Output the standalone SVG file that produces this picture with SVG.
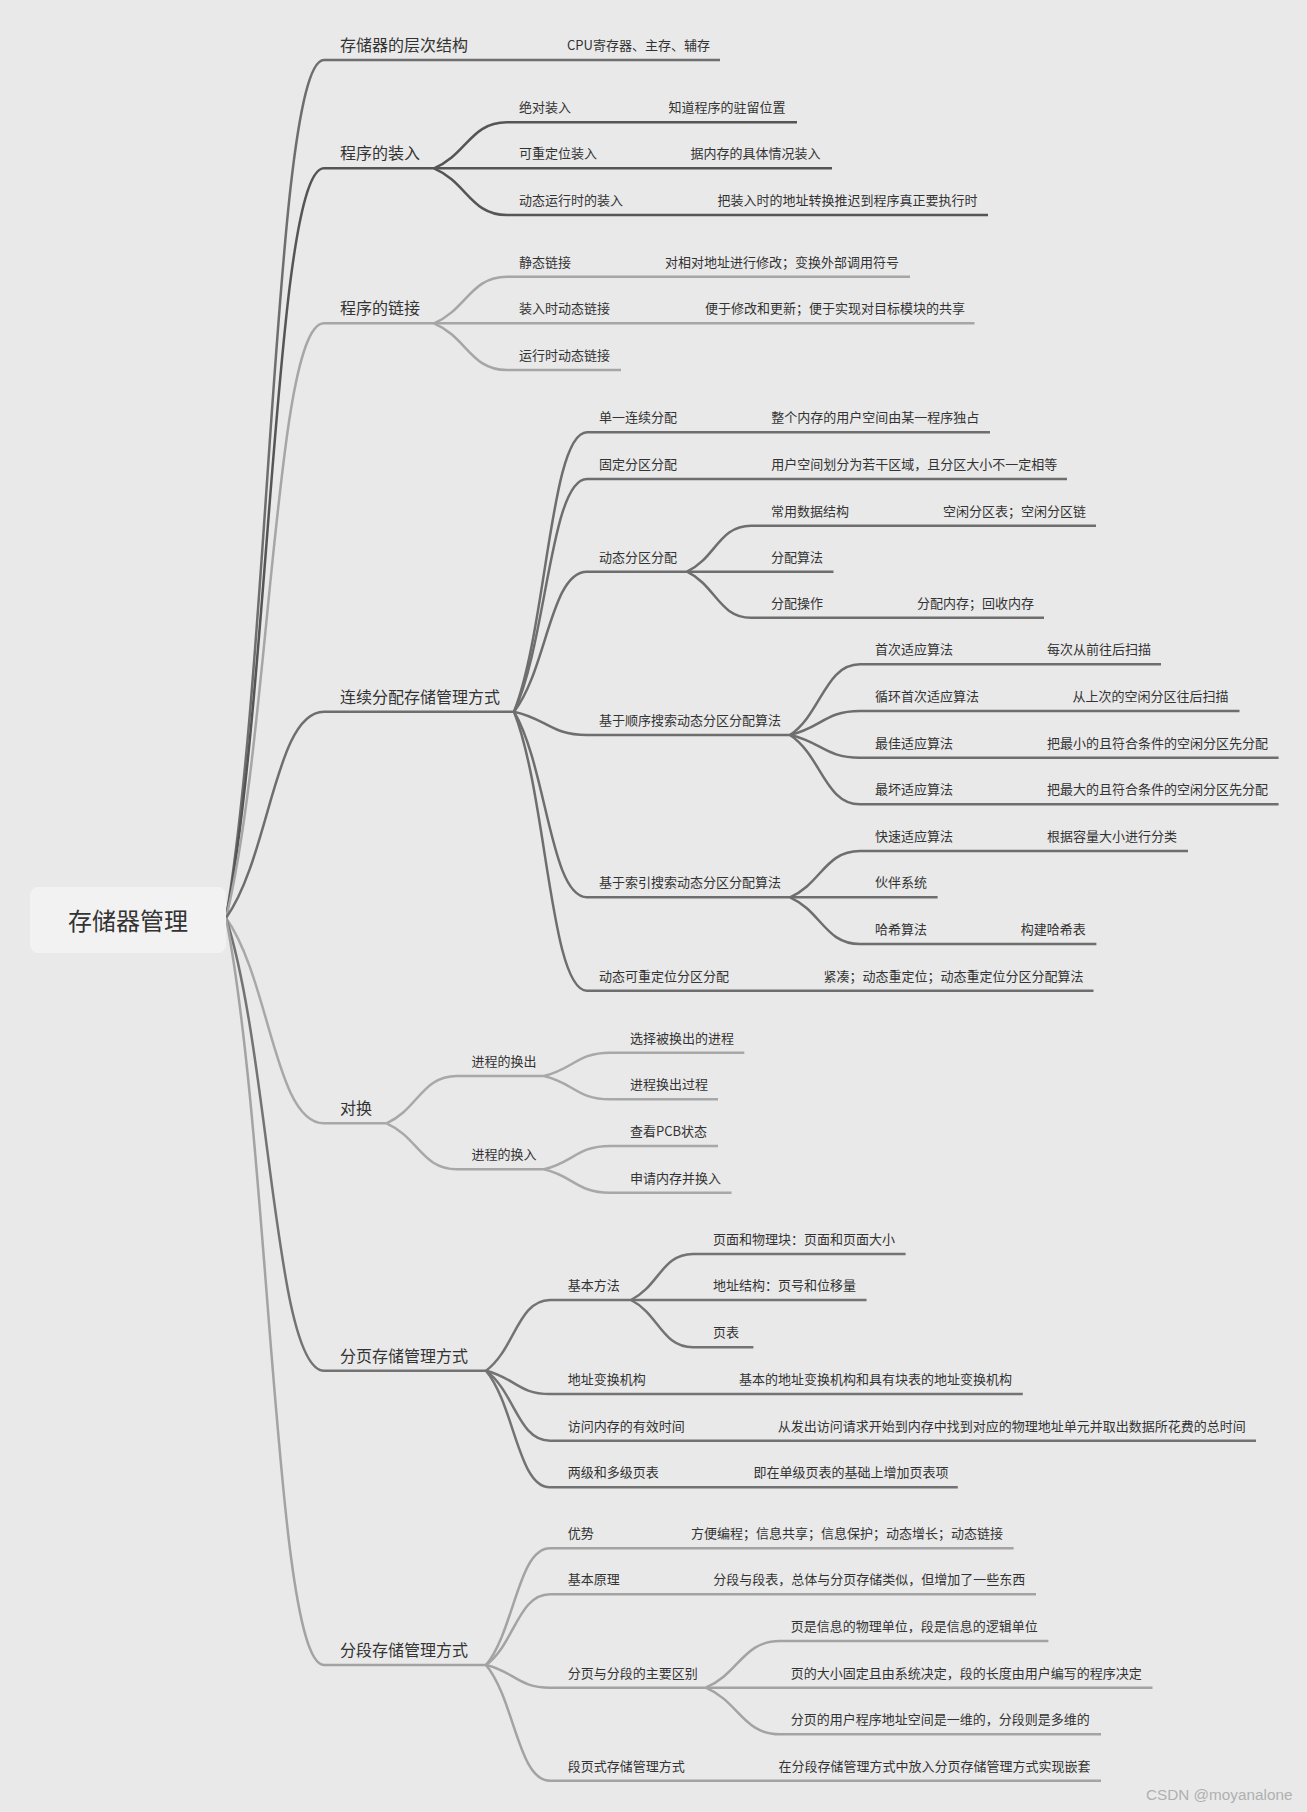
<svg xmlns="http://www.w3.org/2000/svg" width="1307" height="1812" viewBox="0 0 1307 1812">
<style>
text{font-family:"Noto Sans CJK SC","Noto Sans",sans-serif;fill:#333}
.t16{font-size:16px}
.t13{font-size:13px}
.root{font-size:24px;text-anchor:middle}
line,path{fill:none;stroke-width:2.5}
.cA{stroke:#6e6e6e}.cB{stroke:#555}.cC{stroke:#a6a6a6}.cD{stroke:#6e6e6e}.cE{stroke:#a8a8a8}.cF{stroke:#737373}.cG{stroke:#a3a3a3}
.wm{font-family:"Liberation Sans",Arial,sans-serif;font-size:15.3px;fill:#b0b0b0}
</style>
<rect width="1307" height="1812" fill="#e9e9e9"/>
<g id="connectors">
<path class="cA" d="M226 918 C270.1 660.6 275 60 324 60"/>
<path class="cB" d="M226 918 C270.1 693.1 275 168.3 324 168.3"/>
<path class="cC" d="M226 918 C270.1 739.6 275 323.3 324 323.3"/>
<path class="cD" d="M226 918 C270.1 856.1 275 711.7 324 711.7"/>
<path class="cE" d="M226 918 C270.1 979.6 275 1123.3 324 1123.3"/>
<path class="cF" d="M226 918 C270.1 1053.8 275 1370.7 324 1370.7"/>
<path class="cG" d="M226 918 C270.1 1142.1 275 1665 324 1665"/>
<path class="cB" d="M434 168.3 C466.9 154.5 470.5 122.3 507 122.3"/>
<path class="cB" d="M434 168.3 L507 168.3"/>
<path class="cB" d="M434 168.3 C466.9 182.3 470.5 215 507 215"/>
<path class="cC" d="M434 323.3 C466.9 309.3 470.5 276.7 507 276.7"/>
<path class="cC" d="M434 323.3 L507 323.3"/>
<path class="cC" d="M434 323.3 C466.9 337.3 470.5 370 507 370"/>
<path class="cD" d="M514 711.7 C546.9 627.9 550.5 432.3 587 432.3"/>
<path class="cD" d="M514 711.7 C546.9 641.9 550.5 479 587 479"/>
<path class="cD" d="M514 711.7 C546.9 669.7 550.5 571.7 587 571.7"/>
<path class="cD" d="M514 711.7 C546.9 718.7 550.5 735 587 735"/>
<path class="cD" d="M514 711.7 C546.9 767.4 550.5 897.3 587 897.3"/>
<path class="cD" d="M514 711.7 C546.9 795.4 550.5 990.7 587 990.7"/>
<path class="cD" d="M687 571.7 C715.8 557.9 719 525.7 751 525.7"/>
<path class="cD" d="M687 571.7 L751 571.7"/>
<path class="cD" d="M687 571.7 C715.8 585.5 719 617.7 751 617.7"/>
<path class="cD" d="M790 735 C821.5 713.8 825 664.3 860 664.3"/>
<path class="cD" d="M790 735 C821.5 727.8 825 711 860 711"/>
<path class="cD" d="M790 735 C821.5 741.8 825 757.7 860 757.7"/>
<path class="cD" d="M790 735 C821.5 755.8 825 804.3 860 804.3"/>
<path class="cD" d="M790 897.3 C821.5 883.4 825 851 860 851"/>
<path class="cD" d="M790 897.3 L860 897.3"/>
<path class="cD" d="M790 897.3 C821.5 911.3 825 944 860 944"/>
<path class="cE" d="M386.5 1123.3 C418.2 1109.1 421.8 1076 457 1076"/>
<path class="cE" d="M386.5 1123.3 C418.2 1137.1 421.8 1169.3 457 1169.3"/>
<path class="cE" d="M544 1076 C573.7 1069 577 1052.7 610 1052.7"/>
<path class="cE" d="M544 1076 C573.7 1083 577 1099.3 610 1099.3"/>
<path class="cE" d="M544 1169.3 C573.7 1162.3 577 1146 610 1146"/>
<path class="cE" d="M544 1169.3 C573.7 1176.3 577 1192.7 610 1192.7"/>
<path class="cF" d="M486 1370.7 C514.8 1349.5 518 1300 550 1300"/>
<path class="cF" d="M486 1370.7 C514.8 1377.7 518 1394 550 1394"/>
<path class="cF" d="M486 1370.7 C514.8 1391.7 518 1440.7 550 1440.7"/>
<path class="cF" d="M486 1370.7 C514.8 1405.7 518 1487.3 550 1487.3"/>
<path class="cF" d="M631 1300 C658.9 1286.2 662 1254 693 1254"/>
<path class="cF" d="M631 1300 L693 1300"/>
<path class="cF" d="M631 1300 C658.9 1314.2 662 1347.3 693 1347.3"/>
<path class="cG" d="M486 1665 C514.8 1630 518 1548.3 550 1548.3"/>
<path class="cG" d="M486 1665 C514.8 1643.8 518 1594.3 550 1594.3"/>
<path class="cG" d="M486 1665 C514.8 1671.8 518 1687.7 550 1687.7"/>
<path class="cG" d="M486 1665 C514.8 1699.7 518 1780.7 550 1780.7"/>
<path class="cG" d="M705.7 1687.7 C739.1 1673.7 742.9 1641 780 1641"/>
<path class="cG" d="M705.7 1687.7 L780 1687.7"/>
<path class="cG" d="M705.7 1687.7 C739.1 1701.7 742.9 1734.3 780 1734.3"/>
</g>
<g id="root"><rect x="30" y="887" width="196" height="66" rx="8" fill="#f2f2f2"/><text class="root" x="128" y="930">存储器管理</text></g>
<g id="n1"><line class="cA" x1="324" y1="60" x2="482" y2="60"/><text class="t16" x="340" y="51">存储器的层次结构</text></g>
<g id="n1d"><line class="cA" x1="482" y1="60" x2="720" y2="60"/><text class="t13" x="567" y="50">CPU寄存器、主存、辅存</text></g>
<g id="n2"><line class="cB" x1="324" y1="168.3" x2="434" y2="168.3"/><text class="t16" x="340" y="159.3">程序的装入</text></g>
<g id="n2a"><line class="cB" x1="507" y1="122.3" x2="586" y2="122.3"/><text class="t13" x="519" y="112.3">绝对装入</text></g>
<g id="n2ad"><line class="cB" x1="586" y1="122.3" x2="797" y2="122.3"/><text class="t13" x="668.5" y="112.3">知道程序的驻留位置</text></g>
<g id="n2b"><line class="cB" x1="507" y1="168.3" x2="606" y2="168.3"/><text class="t13" x="519" y="158.3">可重定位装入</text></g>
<g id="n2bd"><line class="cB" x1="606" y1="168.3" x2="832" y2="168.3"/><text class="t13" x="690.4" y="158.3">据内存的具体情况装入</text></g>
<g id="n2c"><line class="cB" x1="507" y1="215" x2="631" y2="215"/><text class="t13" x="519" y="205">动态运行时的装入</text></g>
<g id="n2cd"><line class="cB" x1="631" y1="215" x2="988" y2="215"/><text class="t13" x="717.4" y="205">把装入时的地址转换推迟到程序真正要执行时</text></g>
<g id="n3"><line class="cC" x1="324" y1="323.3" x2="434" y2="323.3"/><text class="t16" x="340" y="314.3">程序的链接</text></g>
<g id="n3a"><line class="cC" x1="507" y1="276.7" x2="582" y2="276.7"/><text class="t13" x="519" y="266.7">静态链接</text></g>
<g id="n3ad"><line class="cC" x1="582" y1="276.7" x2="910" y2="276.7"/><text class="t13" x="665" y="266.7">对相对地址进行修改；变换外部调用符号</text></g>
<g id="n3b"><line class="cC" x1="507" y1="323.3" x2="622" y2="323.3"/><text class="t13" x="519" y="313.3">装入时动态链接</text></g>
<g id="n3bd"><line class="cC" x1="622" y1="323.3" x2="974.5" y2="323.3"/><text class="t13" x="705" y="313.3">便于修改和更新；便于实现对目标模块的共享</text></g>
<g id="n3c"><line class="cC" x1="507" y1="370" x2="621" y2="370"/><text class="t13" x="519" y="360">运行时动态链接</text></g>
<g id="n4"><line class="cD" x1="324" y1="711.7" x2="514" y2="711.7"/><text class="t16" x="340" y="702.7">连续分配存储管理方式</text></g>
<g id="n4a"><line class="cD" x1="587" y1="432.3" x2="687" y2="432.3"/><text class="t13" x="599" y="422.3">单一连续分配</text></g>
<g id="n4ad"><line class="cD" x1="687" y1="432.3" x2="990" y2="432.3"/><text class="t13" x="771.3" y="422.3">整个内存的用户空间由某一程序独占</text></g>
<g id="n4b"><line class="cD" x1="587" y1="479" x2="687" y2="479"/><text class="t13" x="599" y="469">固定分区分配</text></g>
<g id="n4bd"><line class="cD" x1="687" y1="479" x2="1067" y2="479"/><text class="t13" x="771.3" y="469">用户空间划分为若干区域，且分区大小不一定相等</text></g>
<g id="n4c"><line class="cD" x1="587" y1="571.7" x2="687" y2="571.7"/><text class="t13" x="599" y="561.7">动态分区分配</text></g>
<g id="n4c1"><line class="cD" x1="751" y1="525.7" x2="857" y2="525.7"/><text class="t13" x="771" y="515.7">常用数据结构</text></g>
<g id="n4c1d"><line class="cD" x1="857" y1="525.7" x2="1096" y2="525.7"/><text class="t13" x="943" y="515.7">空闲分区表；空闲分区链</text></g>
<g id="n4c2"><line class="cD" x1="751" y1="571.7" x2="833.5" y2="571.7"/><text class="t13" x="771" y="561.7">分配算法</text></g>
<g id="n4c3"><line class="cD" x1="751" y1="617.7" x2="834" y2="617.7"/><text class="t13" x="771" y="607.7">分配操作</text></g>
<g id="n4c3d"><line class="cD" x1="834" y1="617.7" x2="1044" y2="617.7"/><text class="t13" x="917" y="607.7">分配内存；回收内存</text></g>
<g id="n4d"><line class="cD" x1="587" y1="735" x2="790" y2="735"/><text class="t13" x="599" y="725">基于顺序搜索动态分区分配算法</text></g>
<g id="n4d1"><line class="cD" x1="860" y1="664.3" x2="961" y2="664.3"/><text class="t13" x="875" y="654.3">首次适应算法</text></g>
<g id="n4d1d"><line class="cD" x1="961" y1="664.3" x2="1161" y2="664.3"/><text class="t13" x="1047" y="654.3">每次从前往后扫描</text></g>
<g id="n4d2"><line class="cD" x1="860" y1="711" x2="990" y2="711"/><text class="t13" x="875" y="701">循环首次适应算法</text></g>
<g id="n4d2d"><line class="cD" x1="990" y1="711" x2="1239.5" y2="711"/><text class="t13" x="1072.6" y="701">从上次的空闲分区往后扫描</text></g>
<g id="n4d3"><line class="cD" x1="860" y1="757.7" x2="961" y2="757.7"/><text class="t13" x="875" y="747.7">最佳适应算法</text></g>
<g id="n4d3d"><line class="cD" x1="961" y1="757.7" x2="1278.6" y2="757.7"/><text class="t13" x="1047" y="747.7">把最小的且符合条件的空闲分区先分配</text></g>
<g id="n4d4"><line class="cD" x1="860" y1="804.3" x2="961" y2="804.3"/><text class="t13" x="875" y="794.3">最坏适应算法</text></g>
<g id="n4d4d"><line class="cD" x1="961" y1="804.3" x2="1278.6" y2="804.3"/><text class="t13" x="1047" y="794.3">把最大的且符合条件的空闲分区先分配</text></g>
<g id="n4e"><line class="cD" x1="587" y1="897.3" x2="790" y2="897.3"/><text class="t13" x="599" y="887.3">基于索引搜索动态分区分配算法</text></g>
<g id="n4e1"><line class="cD" x1="860" y1="851" x2="961" y2="851"/><text class="t13" x="875" y="841">快速适应算法</text></g>
<g id="n4e1d"><line class="cD" x1="961" y1="851" x2="1188" y2="851"/><text class="t13" x="1047" y="841">根据容量大小进行分类</text></g>
<g id="n4e2"><line class="cD" x1="860" y1="897.3" x2="937.6" y2="897.3"/><text class="t13" x="875" y="887.3">伙伴系统</text></g>
<g id="n4e3"><line class="cD" x1="860" y1="944" x2="938" y2="944"/><text class="t13" x="875" y="934">哈希算法</text></g>
<g id="n4e3d"><line class="cD" x1="938" y1="944" x2="1096.4" y2="944"/><text class="t13" x="1020.7" y="934">构建哈希表</text></g>
<g id="n4f"><line class="cD" x1="587" y1="990.7" x2="740" y2="990.7"/><text class="t13" x="599" y="980.7">动态可重定位分区分配</text></g>
<g id="n4fd"><line class="cD" x1="740" y1="990.7" x2="1093.5" y2="990.7"/><text class="t13" x="823.5" y="980.7">紧凑；动态重定位；动态重定位分区分配算法</text></g>
<g id="n5"><line class="cE" x1="324" y1="1123.3" x2="386.5" y2="1123.3"/><text class="t16" x="340" y="1114.3">对换</text></g>
<g id="n5a"><line class="cE" x1="457" y1="1076" x2="544" y2="1076"/><text class="t13" x="471.5" y="1066">进程的换出</text></g>
<g id="n5a1"><line class="cE" x1="610" y1="1052.7" x2="744.3" y2="1052.7"/><text class="t13" x="630" y="1042.7">选择被换出的进程</text></g>
<g id="n5a2"><line class="cE" x1="610" y1="1099.3" x2="718" y2="1099.3"/><text class="t13" x="630" y="1089.3">进程换出过程</text></g>
<g id="n5b"><line class="cE" x1="457" y1="1169.3" x2="544" y2="1169.3"/><text class="t13" x="471.5" y="1159.3">进程的换入</text></g>
<g id="n5b1"><line class="cE" x1="610" y1="1146" x2="718" y2="1146"/><text class="t13" x="630" y="1136">查看PCB状态</text></g>
<g id="n5b2"><line class="cE" x1="610" y1="1192.7" x2="731.5" y2="1192.7"/><text class="t13" x="630" y="1182.7">申请内存并换入</text></g>
<g id="n6"><line class="cF" x1="324" y1="1370.7" x2="486" y2="1370.7"/><text class="t16" x="340" y="1361.7">分页存储管理方式</text></g>
<g id="n6a"><line class="cF" x1="550" y1="1300" x2="631" y2="1300"/><text class="t13" x="567.7" y="1290">基本方法</text></g>
<g id="n6a1"><line class="cF" x1="693" y1="1254" x2="905.6" y2="1254"/><text class="t13" x="713" y="1244">页面和物理块：页面和页面大小</text></g>
<g id="n6a2"><line class="cF" x1="693" y1="1300" x2="866.5" y2="1300"/><text class="t13" x="713" y="1290">地址结构：页号和位移量</text></g>
<g id="n6a3"><line class="cF" x1="693" y1="1347.3" x2="753.4" y2="1347.3"/><text class="t13" x="713" y="1337.3">页表</text></g>
<g id="n6b"><line class="cF" x1="550" y1="1394" x2="656" y2="1394"/><text class="t13" x="567.7" y="1384">地址变换机构</text></g>
<g id="n6bd"><line class="cF" x1="656" y1="1394" x2="1022.8" y2="1394"/><text class="t13" x="739" y="1384">基本的地址变换机构和具有块表的地址变换机构</text></g>
<g id="n6c"><line class="cF" x1="550" y1="1440.7" x2="695" y2="1440.7"/><text class="t13" x="567.7" y="1430.7">访问内存的有效时间</text></g>
<g id="n6cd"><line class="cF" x1="695" y1="1440.7" x2="1256" y2="1440.7"/><text class="t13" x="777.7" y="1430.7">从发出访问请求开始到内存中找到对应的物理地址单元并取出数据所花费的总时间</text></g>
<g id="n6d"><line class="cF" x1="550" y1="1487.3" x2="670" y2="1487.3"/><text class="t13" x="567.7" y="1477.3">两级和多级页表</text></g>
<g id="n6dd"><line class="cF" x1="670" y1="1487.3" x2="957.8" y2="1487.3"/><text class="t13" x="753.4" y="1477.3">即在单级页表的基础上增加页表项</text></g>
<g id="n7"><line class="cG" x1="324" y1="1665" x2="486" y2="1665"/><text class="t16" x="340" y="1656">分段存储管理方式</text></g>
<g id="n7a"><line class="cG" x1="550" y1="1548.3" x2="608" y2="1548.3"/><text class="t13" x="567.7" y="1538.3">优势</text></g>
<g id="n7ad"><line class="cG" x1="608" y1="1548.3" x2="1013.6" y2="1548.3"/><text class="t13" x="691" y="1538.3">方便编程；信息共享；信息保护；动态增长；动态链接</text></g>
<g id="n7b"><line class="cG" x1="550" y1="1594.3" x2="630" y2="1594.3"/><text class="t13" x="567.7" y="1584.3">基本原理</text></g>
<g id="n7bd"><line class="cG" x1="630" y1="1594.3" x2="1036" y2="1594.3"/><text class="t13" x="713.2" y="1584.3">分段与段表，总体与分页存储类似，但增加了一些东西</text></g>
<g id="n7c"><line class="cG" x1="550" y1="1687.7" x2="705.7" y2="1687.7"/><text class="t13" x="567.7" y="1677.7">分页与分段的主要区别</text></g>
<g id="n7c1"><line class="cG" x1="780" y1="1641" x2="1048.4" y2="1641"/><text class="t13" x="790.7" y="1631">页是信息的物理单位，段是信息的逻辑单位</text></g>
<g id="n7c2"><line class="cG" x1="780" y1="1687.7" x2="1152.5" y2="1687.7"/><text class="t13" x="790.7" y="1677.7">页的大小固定且由系统决定，段的长度由用户编写的程序决定</text></g>
<g id="n7c3"><line class="cG" x1="780" y1="1734.3" x2="1101" y2="1734.3"/><text class="t13" x="790.7" y="1724.3">分页的用户程序地址空间是一维的，分段则是多维的</text></g>
<g id="n7d"><line class="cG" x1="550" y1="1780.7" x2="695" y2="1780.7"/><text class="t13" x="567.7" y="1770.7">段页式存储管理方式</text></g>
<g id="n7dd"><line class="cG" x1="695" y1="1780.7" x2="1101" y2="1780.7"/><text class="t13" x="778.4" y="1770.7">在分段存储管理方式中放入分页存储管理方式实现嵌套</text></g>
<text class="wm" x="1146" y="1800">CSDN @moyanalone</text>
</svg>
